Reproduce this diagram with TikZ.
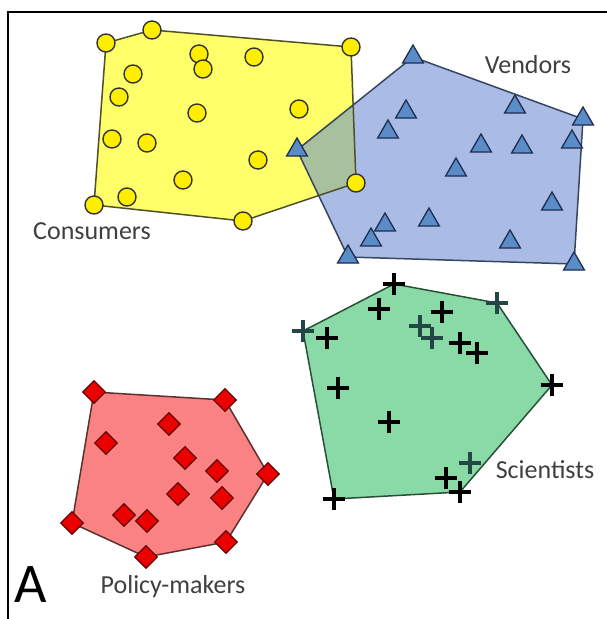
\documentclass[tikz,border=0pt]{standalone}
\usepackage{fontspec}
\setmainfont{Carlito}
\usepackage{tikz}
\usetikzlibrary{shapes.geometric,shapes.misc}

\definecolor{consfill}{RGB}{255,255,105}
\definecolor{vendfill}{RGB}{170,187,230}
\definecolor{overfill}{RGB}{168,192,158}
\definecolor{scifill}{RGB}{138,218,168}
\definecolor{polfill}{RGB}{250,130,130}
\definecolor{labelgray}{RGB}{64,64,64}

\begin{document}
\begin{tikzpicture}
        [%%%%%%%%%%%%%%%%%%%%%%%%%%%%%%
        x=1pt, y=-1pt,
        dot/.style={circle,draw=black!80,fill={rgb,255:red,255;green,238;blue,0},line width=1.4pt,inner sep=0pt,minimum size=18pt},
        tri/.style={regular polygon,regular polygon sides=3,draw={rgb,255:red,30;green,45;blue,80},fill={rgb,255:red,90;green,140;blue,200},line width=1.3pt,inner sep=0pt,minimum size=24pt},
        dia/.style={diamond,draw={rgb,255:red,100;green,0;blue,0},fill={rgb,255:red,235;green,0;blue,0},line width=1.2pt,inner sep=0pt,minimum size=23pt},
        crossmark/.style={cross out,draw=black,rotate=45,line width=3.2pt,inner sep=0pt,minimum size=13pt},
        fcrossmark/.style={crossmark,draw={rgb,255:red,35;green,70;blue,70}},
        hull/.style={line width=1.5pt,line join=round},
        lbl/.style={text=labelgray,font=\fontsize{26}{30}\selectfont,inner sep=0pt},
        ]%%%%%%%%%%%%%%%%%%%%%%%%%%%%%%
        \useasboundingbox (0,0) rectangle (607,619);
        % Point sets (hull corners first)
        % CONSUMERS
        \foreach \x/\y [count=\i] in {106/43,152/30,351/47,356/183,243/221,94/205,
            199/54,203/69,254/57,133/74,119/97,197/113,299/109,112/139,
            147/143,258/160,183/180,127/197}{
          \coordinate (c\i) at (\x,\y);
        }
        % VENDORS
        \foreach \x/\y [count=\i] in {413/57,583/119,574/264,348/257,297/150,
            406/112,388/132,515/107,572/142,481/146,522/147,456/170,
            552/204,429/220,385/225,371/240,510/242}{
          \coordinate (v\i) at (\x,\y);
        }
        % SCIENTISTS
        \foreach \x/\y [count=\i] in {394/284,497/303,552/385,460/492,334/499,303/331,
            379/309,442/312,420/326,432/338,327/338,460/343,477/353,
            338/388,389/422,470/463,446/478}{
          \coordinate (s\i) at (\x,\y);
        }
        % POLICY-MAKERS
        \foreach \x/\y [count=\i] in {94/392,225/400,268/474,226/542,146/557,72/523,
            169/424,106/443,185/458,217/471,178/494,222/498,124/515,147/521}{
          \coordinate (p\i) at (\x,\y);
        }
        % Hull areas
        \fill[consfill] (c1) -- (c2) -- (c3) -- (c4) -- (c5) -- (c6) -- cycle;
        \fill[vendfill] (v1) -- (v2) -- (v3) -- (v4) -- (v5) -- cycle;
        \begin{scope}
          \clip (c1) -- (c2) -- (c3) -- (c4) -- (c5) -- (c6) -- cycle;
          \fill[overfill] (v1) -- (v2) -- (v3) -- (v4) -- (v5) -- cycle;
        \end{scope}
        \fill[scifill] (s1) -- (s2) -- (s3) -- (s4) -- (s5) -- (s6) -- cycle;
        \fill[polfill] (p1) -- (p2) -- (p3) -- (p4) -- (p5) -- (p6) -- cycle;
        % Hull lines
        \draw[hull,draw={rgb,255:red,80;green,80;blue,40}] (c1) -- (c2) -- (c3) -- (c4) -- (c5) -- (c6) -- cycle;
        \draw[hull,draw={rgb,255:red,55;green,70;blue,95}] (v1) -- (v2) -- (v3) -- (v4) -- (v5) -- cycle;
        \draw[hull,draw={rgb,255:red,40;green,80;blue,55}] (s1) -- (s2) -- (s3) -- (s4) -- (s5) -- (s6) -- cycle;
        \draw[hull,draw={rgb,255:red,90;green,50;blue,50}] (p1) -- (p2) -- (p3) -- (p4) -- (p5) -- (p6) -- cycle;
        % Markers
        \foreach \i in {1,...,18}{ \node[dot] (cm\i) at (c\i) {}; }
        \foreach \i in {1,...,17}{ \node[tri] (vm\i) at (v\i) {}; }
        \foreach \i in {1,3,4,5,7,8,11,12,13,14,15,17}{ \node[crossmark] (sm\i) at (s\i) {}; }
        \foreach \i in {2,6,9,10,16}{ \node[fcrossmark] (sm\i) at (s\i) {}; }
        \foreach \i in {1,...,14}{ \node[dia] (pm\i) at (p\i) {}; }
        % Text
        \node[lbl] (consumers) at (92,231) {Consumers};
        \node[lbl] (vendors) at (528,65) {Vendors};
        \node[lbl] (scientists) at (545,470) {Scientists};
        \node[lbl] (policy) at (173,587) {Policy-makers};
        \node[font=\fontsize{56}{60}\selectfont,inner sep=0pt] (panel) at (31,585) {A};
        % Frame
        \coordinate (fbl) at (8,619);
        \coordinate (ftl) at (8,12);
        \coordinate (ftr) at (607,12);
        \draw[line width=2pt] (fbl) -- (ftl) -- (ftr);
      \end{tikzpicture}
\end{document}
